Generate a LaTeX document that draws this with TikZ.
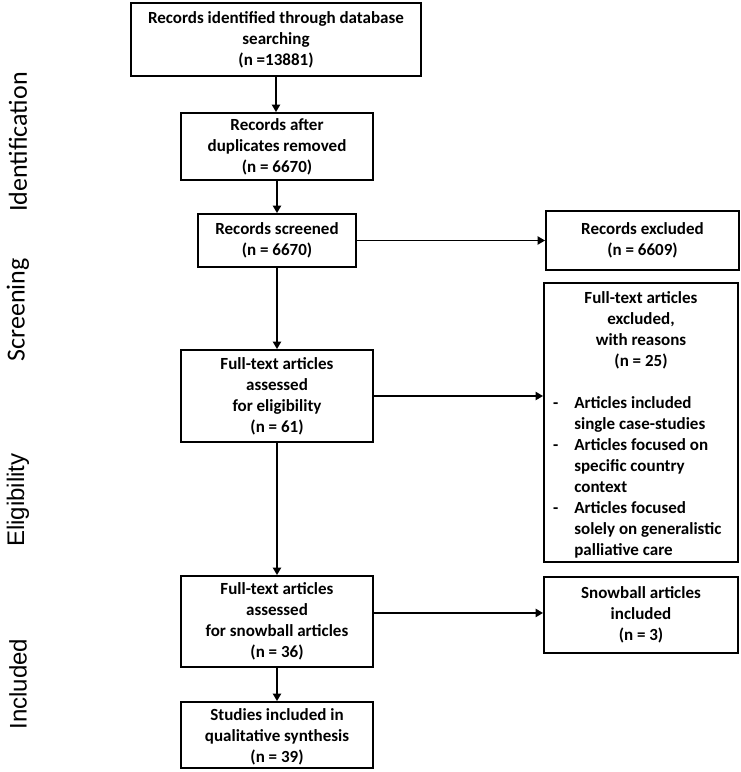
\documentclass[tikz,border=0pt]{standalone}
\usepackage{fontspec}
\setmainfont{Carlito}
\newfontfamily\arialish{Liberation Sans}
\usetikzlibrary{arrows.meta}
\newcommand\dashitem{\leavevmode\llap{-\hspace{12pt}}}
\begin{document}
\begin{tikzpicture}[x=0.75pt,y=-0.75pt,
  frame/.style={draw, line width=1.4pt, inner sep=1pt,
    font=\fontsize{12.75}{15.75}\selectfont\bfseries},
  box/.style={frame, align=center},
  arr/.style={line width=1.4pt, -{Triangle[width=6pt,length=5.5pt]}},
  phase/.style={rotate=90, inner sep=0pt}]
\useasboundingbox (0,0) rectangle (741,772);

\node[box, minimum width=217.5pt, minimum height=54.75pt] (b1) at (276,39.5)
  {Records identified through database\\searching\\(n =13881)};
\node[box, minimum width=144pt, minimum height=50.25pt] (b2) at (277,146.5)
  {Records after\\duplicates removed\\(n = 6670)};
\node[box, minimum width=118.5pt, minimum height=39.75pt] (b3) at (277,240.5)
  {Records screened\\(n = 6670)};
\node[box, minimum width=144pt, minimum height=69pt] (b4) at (277,396)
  {Full-text articles\\assessed\\for eligibility\\(n = 61)};
\node[box, minimum width=144pt, minimum height=68.25pt] (b5) at (277,621.5)
  {Full-text articles\\assessed\\for snowball articles\\(n = 36)};
\node[box, minimum width=144pt, minimum height=49.5pt] (b6) at (277,735)
  {\raisebox{-1.5pt}[\height][\depth]{\begin{tabular}{@{}c@{}}Studies included in\\qualitative synthesis\\(n = 39)\end{tabular}}};

\node[box, minimum width=144.75pt, minimum height=44pt] (e1) at (642.5,240.5)
  {Records excluded\\(n = 6609)};
\node[frame, minimum width=145.5pt, minimum height=209.25pt, inner sep=0pt] (e2) at (641,422.5)
  {\raisebox{-2pt}[\height][\depth]{\parbox{140pt}{\centering Full-text articles\\excluded,\\with reasons\\(n = 25)\par
   \vspace{\baselineskip}%
   \raggedright\leftskip=20pt\parindent=0pt
   \dashitem Articles included\\single case-studies\par
   \dashitem Articles focused on\\specific country\\context\par
   \dashitem Articles focused\\solely on generalistic\\palliative care\par}}};
\node[box, minimum width=145.5pt, minimum height=57pt] (e3) at (641,615)
  {Snowball articles\\included\\(n = 3)};

\node[phase, font=\fontsize{19.5}{22}\selectfont] (p1) at (18,142) {Identification};
\node[phase, font=\fontsize{19.5}{22}\selectfont] (p2) at (18,310) {Screening};
\node[phase, font=\arialish\fontsize{18}{21}\selectfont] (p3) at (18,500) {Eligibility};
\node[phase, font=\arialish\fontsize{18}{21}\selectfont] (p4) at (18,684) {Included};

\draw[arr] (b1.south) -- (b1.south |- b2.north);
\draw[arr] (b2.south) -- (b2.south |- b3.north);
\draw[arr] (b3.south) -- (b3.south |- b4.north);
\draw[arr] (b4.south) -- (b4.south |- b5.north);
\draw[arr] (b5.south) -- (b5.south |- b6.north);
\draw[arr] (b3.east) -- (b3.east -| e1.west);
\draw[arr] (b4.east) -- (b4.east -| e2.west);
\draw[arr] ([yshift=6.4pt]b5.east) -- ([yshift=6.4pt]b5.east -| e3.west);
\end{tikzpicture}
\end{document}
